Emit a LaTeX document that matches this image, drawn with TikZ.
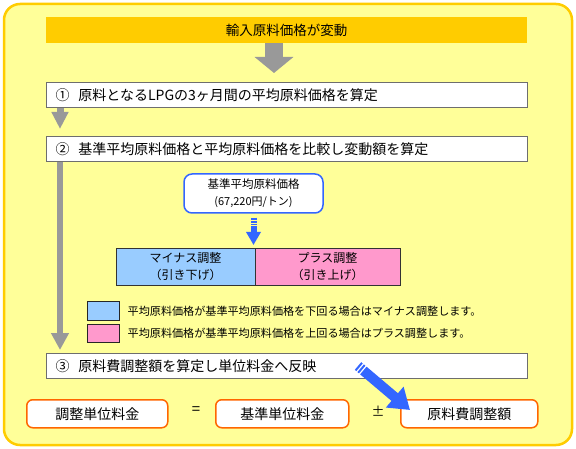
\documentclass[tikz,border=0pt]{standalone}
\usepackage{fontspec}
\setmainfont{Noto Sans CJK JP}
\usepackage{xcolor}
\usetikzlibrary{arrows.meta, positioning, calc}
\definecolor{fuelyellow}{HTML}{FFFF99}
\definecolor{fuelgold}{HTML}{FFCC00}
\definecolor{fuelgrey}{HTML}{999999}
\definecolor{fuelline}{HTML}{6E6E6E}
\definecolor{fuelblue}{HTML}{3366FF}
\definecolor{fuelsky}{HTML}{99CCFF}
\definecolor{fuelpink}{HTML}{FF99CC}
\definecolor{fuelorange}{HTML}{FF6600}

\begin{document}
\begin{tikzpicture}[x=1pt, y=-1pt,
  stepbox/.style={draw=fuelline, line width=1pt, fill=white, anchor=north west,
    minimum height=25pt, text width=463pt, inner xsep=9pt, inner ysep=0pt,
    align=left, font=\fontsize{14}{16}\selectfont},
  adjbox/.style={draw=black!80, line width=0.8pt, outer sep=0pt, minimum height=37pt,
    align=center, font=\fontsize{12}{17}\selectfont},
  pricebox/.style={draw=fuelorange, line width=1.5pt, fill=white, rounded corners=6pt,
    anchor=north west, minimum height=28pt, font=\fontsize{14}{16}\selectfont},
  greyarrow/.style={fuelgrey, shorten >=#1},
  greyarrow/.default=0pt]
  % page and frame
  \fill[white] (0,0) rectangle (576,449);
  \useasboundingbox (0,0) rectangle (576,449);
  \draw[fill=fuelyellow, draw=fuelgold, line width=2.5pt, rounded corners=16pt]
        (4,4) rectangle (572,445);
  % header
  \node[fill=fuelgold, minimum width=481pt, minimum height=26pt,
        font=\fontsize{13.5}{16}\selectfont] (banner) at (286.5,30) {輸入原料価格が変動};
  % steps
  \node[stepbox] (step1) at (46,82) {①\hspace{9pt}原料となるLPGの3ヶ月間の平均原料価格を算定};
  \node[stepbox] (step2) at (46,136) {②\hspace{9pt}基準平均原料価格と平均原料価格を比較し変動額を算定};
  \node[stepbox] (step3) at (46,353) {③\hspace{9pt}原料費調整額を算定し単位料金へ反映};
  % grey arrows
  \draw[greyarrow=9pt, line width=18pt, -{Triangle[length=16pt, width=38pt]}]
        ($(banner.south)+(-12.5,0)$) -- ($(banner.south |- step1.north)+(-12.5,0)$);
  \draw[greyarrow=7pt, line width=7pt, -{Triangle[length=17pt, width=16pt]}]
        ($(step1.south west)+(14,0)$) -- ($(step2.north west)+(14,0)$);
  \draw[greyarrow=3pt, line width=6.5pt, -{Triangle[length=17pt, width=17pt]}]
        ($(step2.south west)+(14,0)$) -- ($(step3.north west)+(14,0)$);
  % base price and adjustment
  \node[draw=fuelblue, line width=1.5pt, fill=white, rounded corners=8pt,
        minimum width=139pt, minimum height=39pt, align=center,
        font=\fontsize{11.5}{17}\selectfont] (basebox) at (253.5,193.5)
        {基準平均原料価格\\{\fontsize{11}{12}\selectfont (67,220円/トン)}};
  \node[adjbox, fill=fuelsky, anchor=north west, minimum width=139pt] (minus) at (116,248)
        {マイナス調整\\（引き下げ）};
  \node[adjbox, fill=fuelpink, minimum width=145pt, right=0pt of minus] (plus)
        {プラス調整\\（引き上げ）};
  \draw[fuelblue, line width=6pt, shorten <=4pt, shorten >=3pt,
        dash pattern=on 2pt off 1pt on 2pt off 1pt on 1.5pt off 1pt on 80pt off 1pt,
        -{Triangle[length=13pt, width=14pt]}] (basebox.south) -- (basebox.south |- minus.north);
  % legend
  \foreach \i/\col/\txt in {
    0/fuelsky/{平均原料価格が基準平均原料価格を下回る場合はマイナス調整します。},
    1/fuelpink/{平均原料価格が基準平均原料価格を上回る場合はプラス調整します。}}
  {
    \node[draw=black!85, line width=1pt, fill=\col, minimum width=32pt, minimum height=18pt]
          (legbox\i) at (103,{311+22*\i}) {};
    \node[right=8pt of legbox\i, inner sep=0pt, font=\fontsize{11.1}{12}\selectfont]
          (legtext\i) {\txt};
  }
  % formula
  \foreach \name/\x/\w/\txt in {adjprice/26/141/調整単位料金, baseprice/215/133/基準単位料金,
    fuelcost/400/137/原料費調整額}
  {
    \node[pricebox, minimum width=\w pt] (\name) at (\x,399) {\txt};
  }
  \node[font=\fontsize{15}{16}\selectfont] (eqsign) at (196,411) {=};
  \node[font=\fontsize{13}{16}\selectfont] (pmsign) at (378,411) {±};
  \coordinate (pentail) at (358,366);
  \draw[fuelblue, line width=10pt,
        dash pattern=on 2pt off 1.5pt on 2pt off 1.5pt on 200pt off 1pt,
        -{Triangle[length=20pt, width=26pt]}] (pentail) -- ($(fuelcost.north west)+(10,11)$);
\end{tikzpicture}
\end{document}
